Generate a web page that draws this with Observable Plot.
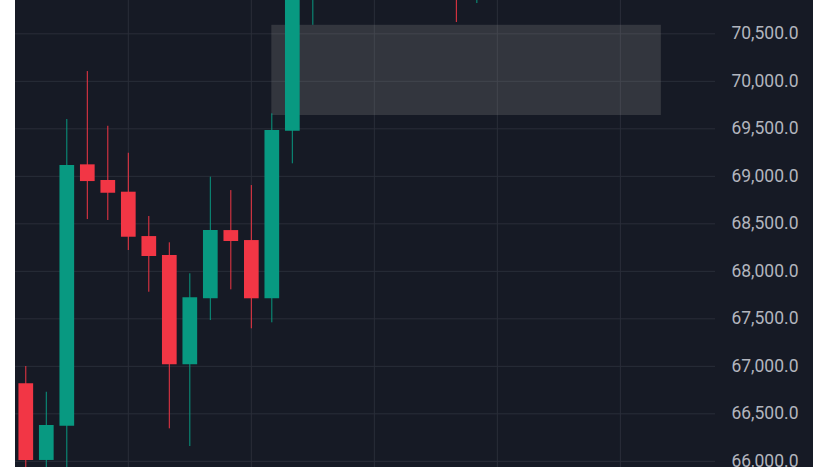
<!DOCTYPE html>
<html>
<head>
<meta charset="utf-8">
<script src="https://cdn.jsdelivr.net/npm/d3@7"></script>
<script src="https://cdn.jsdelivr.net/npm/@observablehq/plot@0.6"></script>
<style>
  body { margin: 0; background: #ffffff; }
  #chart { padding-left: 15px; width: 798px; height: 467px; }
  #chart svg { display: block; }
</style>
</head>
<body>
<div id="chart"></div>
<script>
// bar index, then OHLC
const bars  = [0, 1, 2, 3, 4, 5, 6, 7, 8, 9, 10, 11, 12, 13, 14, 15, 16, 17, 18, 19, 20, 21, 22];
const open  = [66816, 66009, 66368, 69121, 68956, 68833, 68366, 68166, 67016, 67711, 68429, 68324, 67711, 69475, 71250, 71380, 71700, 71550, 71900, 71600, 71450, 71300, 71050];
const high  = [66998, 66727, 69598, 70103, 69527, 69243, 68577, 68300, 67974, 68991, 68850, 68903, 69658, 71450, 71800, 71900, 71950, 72100, 72050, 71800, 71500, 71400, 71300];
const low   = [65800, 65850, 65900, 68545, 68535, 68219, 67780, 66342, 66156, 67482, 67805, 67395, 67458, 69132, 70590, 71150, 71300, 71350, 71400, 71100, 70950, 70619, 70819];
const close = [66009, 66377, 69114, 68945, 68822, 68359, 68156, 67016, 67721, 68429, 68314, 67711, 69482, 71250, 71380, 71700, 71550, 71900, 71600, 71450, 71300, 71050, 71200];

const priceTicks = [66000, 66500, 67000, 67500, 68000, 68500, 69000, 69500, 70000, 70500];
const timeGrid = [5, 11, 17, 23, 29];

// shaded zone
const zoneFrom = 12, zoneTo = 31, zoneLow = 69640, zoneHigh = 70590;

const candles = bars.map((i, k) => ({
  i, open: open[k], high: high[k], low: low[k], close: close[k],
  up: close[k] >= open[k]
}));

const upColor = "#089981";
const downColor = "#f23645";
const col = d => d.up ? upColor : downColor;

const chart = Plot.plot({
  width: 798,
  height: 467,
  marginTop: 0,
  marginBottom: 0,
  marginLeft: 0,
  marginRight: 98,
  style: {
    background: "#161a25",
    color: "#b2b5be",
    fontFamily: "Roboto, sans-serif",
    fontSize: "17.5px",
    overflow: "hidden"
  },
  x: { domain: [-0.502, 33.64], axis: null },
  y: { domain: [65935, 70851], axis: null },
  marks: [
    Plot.gridY(priceTicks, { stroke: "#2a2e39", strokeOpacity: 1 }),
    Plot.gridX(timeGrid, { stroke: "#2a2e39", strokeOpacity: 1 }),
    Plot.rect([{ x1: zoneFrom, x2: zoneTo, y1: zoneLow, y2: zoneHigh }], {
      x1: "x1", x2: "x2", y1: "y1", y2: "y2",
      fill: "#8a8a8a", fillOpacity: 0.25
    }),
    Plot.ruleX(candles, { x: "i", y1: "low", y2: "high", stroke: col, strokeWidth: 1, clip: true }),
    Plot.ruleX(candles, { x: "i", y1: "open", y2: "close", stroke: col, strokeWidth: 14.7, clip: true }),
    Plot.axisY(priceTicks, {
      anchor: "right",
      tickSize: 0,
      tickPadding: 83,
      textAnchor: "end",
      tickFormat: d => d3.format(",.1f")(d),
      fill: "#b2b5be",
      fontSize: 17.5
    })
  ]
});

document.getElementById("chart").append(chart);
</script>
</body>
</html>
